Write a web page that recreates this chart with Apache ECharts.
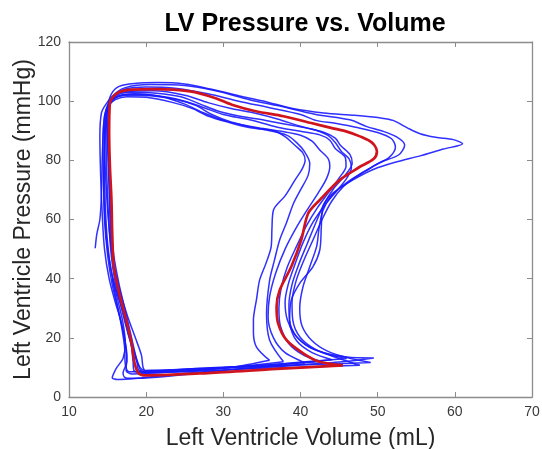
<!DOCTYPE html>
<html>
<head>
<meta charset="utf-8">
<script src="https://cdn.jsdelivr.net/npm/echarts@6/dist/echarts.min.js"></script>
<style>
  html, body { margin: 0; padding: 0; background: #fff; }
  #myChart { width: 542px; height: 449px; }
</style>
</head>
<body>
<div id="myChart"></div>
<script>
// axis ticks
var xTicks = [10, 20, 30, 40, 50, 60, 70]
var yTicks = [0, 20, 40, 60, 80, 100, 120]

// individual beats: [volume mL, pressure mmHg]
var loopA = [[36.0,12.4],[34.3,16.9],[33.9,22],[33.9,26.0],[34.3,33],[34.7,39.5],[35.5,45],[36.2,50.8],[36.3,57],[36.5,63.2],[38.0,68],[39.3,73.4],[40.2,77],[40.6,80],[40.3,82.5],[39.3,85],[38.0,88],[36.5,90],[33.5,91],[30.5,93],[28,95],[26,97.5],[23.5,99.5],[20,101.3],[17.5,101.5],[16,100.5],[15.0,98],[14.7,95],[14.6,85],[14.5,72],[14.6,60],[15.0,48],[15.6,38],[16.5,28],[17.2,20],[17.5,14],[17.4,9],[18.2,7.8],[25,8.8],[31,10],[36.0,12.4]]
var loopB = [[37.8,11.9],[36.0,19.2],[35.6,28.2],[36.0,39.5],[36.6,46],[37.3,53.1],[38.2,59],[39.1,65.5],[40.0,70],[41.0,75],[41.2,79],[40.5,83],[39.5,86],[38.2,88.5],[36,90],[33.4,91.4],[30,93.5],[27.5,96],[25,99],[22,101.5],[18.5,102.5],[16.3,101.5],[15.3,99],[14.9,95],[15.0,85],[15.2,70],[15.4,55],[15.8,45],[16.4,36],[17.3,27],[18.0,19],[18.3,12],[18.4,9],[19.2,8.2],[28,9.3],[37.8,11.9]]
var loopC = [[15.6,40],[16.2,32],[16.8,24],[17.2,17],[17.3,11],[17.8,8.5],[29,10],[40.5,11.5],[38.0,15],[36.5,20],[35.8,27],[36.0,34],[36.8,42],[38.0,50],[39.4,57],[40.8,63],[42.3,69],[43.4,74],[43.8,78],[43.6,80.5],[42.5,83.5],[41.5,86.5],[40,88.5],[37.5,89.8],[34.5,91],[31,93],[28.5,95.5],[26.5,98.5],[24,100.5],[20.5,101.8],[17.5,102],[15.8,101],[14.9,98],[14.5,92],[14.3,80],[14.2,68],[14.0,60],[13.6,55],[13.4,50.3]]
var loopD = [[42.8,12],[40.5,14],[38.5,18],[37.4,24],[37.2,30],[37.5,37],[38.3,44],[39.5,51],[40.8,58],[42.2,64],[43.6,69],[45,74],[45.9,78],[45.8,81],[44.5,84],[43.8,86.8],[42.5,88.6],[40,89.8],[37,91.2],[33.4,93.7],[30,95.5],[27.5,97.8],[25,100],[21.5,101.8],[18,102.3],[16.2,101.5],[15.2,99],[14.6,95],[14.4,85],[14.5,70],[14.8,55],[15.3,45],[16,37],[17,29],[17.8,20],[18.5,14],[19.2,10],[19.8,9],[30,10],[42.8,12]]
var loopE = [[44.1,12.6],[41.5,15],[39.5,19],[38.6,25],[38.5,31],[38.9,38],[39.8,45],[40.9,52],[42.0,59],[43.0,65],[44.3,70.5],[45.8,75],[46.7,79],[46.4,82],[45.2,85],[44.5,87.5],[43,89.5],[40,91.5],[37,94],[34,96],[31,97.5],[28,99.5],[25,102],[21,103.5],[17.5,103.3],[15.8,102],[14.8,99],[14.2,96],[14.0,88],[14.1,75],[14.3,62],[14.6,50],[15.2,40],[16.0,32],[16.8,25],[17.3,18],[17.5,12],[17.0,8],[17.3,6.5],[18,6.3],[30,9],[44.1,12.6]]
var loopF = [[47.7,10.7],[45,13],[42,16],[40,20],[39,26],[38.9,32],[39.4,39],[40.4,46],[41.6,53],[42.8,60],[44,66],[45.5,71],[47.5,75],[49.8,78.5],[51.5,81],[52.3,84.5],[51.8,87.3],[50,89.4],[47.5,91],[44.5,92.5],[42,93.5],[40,95.5],[36,97.8],[32,100],[28,102.5],[24,104.3],[20,104.8],[17.2,104],[15.7,101.5],[15,97],[14.8,88],[14.9,75],[15.1,62],[15.4,50],[15.9,40],[16.7,31],[17.6,22],[18.5,15],[19,11],[19.3,9],[20.2,8.3],[34,9.6],[47.7,10.7]]
var loopG = [[49.1,11.7],[46.5,13],[43.5,15.5],[41.5,19],[40.2,24],[39.9,30],[40.3,37],[41.2,44],[42.1,51],[42.4,57],[42.9,63],[44,68],[46,72.5],[48.5,76.5],[50.3,79.3],[52.7,81.8],[53.5,85.2],[52.4,88],[50.5,90],[48.6,91.4],[46.4,93.7],[42,95.5],[37,98.5],[33.4,100.5],[29,103.5],[25,105.3],[20.5,105.6],[17.2,104.5],[15.8,102],[15.2,98],[15,90],[15.2,75],[15.4,60],[15.8,48],[16.5,38],[17.4,28],[18.2,19],[18.8,12],[19.0,9.2],[19.6,8.5],[30,9.8],[40,10.8],[49.1,11.7]]
var loopH = [[49.5,13.2],[46.0,13.5],[42.1,15.8],[39.5,20.4],[38.6,26.0],[38.8,32.7],[39.9,38.4],[41.6,44.0],[42.5,49.7],[42.7,57.6],[42.9,64.3],[44.2,68.9],[46.8,73.4],[49.5,77],[52.5,79.5],[55.5,81.5],[58.5,83.8],[61.0,85.6],[59.8,87.0],[57.5,87.8],[55.5,89],[53.9,90.9],[52.0,93.5],[50.4,94.3],[47,95.2],[43,96],[39,97.5],[36,99.5],[32.4,101.6],[28.5,104],[25,105.8],[21.5,106.3],[18.5,106],[16.5,105],[15.5,102.5],[15.0,98],[14.7,90],[14.6,78],[14.7,65],[15.0,52],[15.5,42],[16.3,33],[17.0,25],[17.3,18],[17.0,13],[16.2,10],[15.8,8],[15.6,6.5],[16.3,5.9],[25,8],[35,10],[45,11.8],[49.5,13.2]]
var loopI = [[46.0,13.0],[43.5,14.5],[41.0,17],[39.3,21],[38.3,26],[38.0,32],[38.4,38],[39.3,45],[40.3,52],[41.6,59],[43.2,65],[44.8,70],[46.0,74],[46.6,77.5],[46.3,80.5],[45.3,83],[44.5,86],[43.5,88.5],[41.5,90.5],[38.5,92],[35.5,93.5],[32,95],[29.5,96.5],[27,99],[24.5,101.5],[21,102.8],[18,103],[16.2,102],[15.3,99.5],[14.8,95],[14.6,85],[14.8,72],[15.1,60],[15.6,48],[16.4,38],[17.5,28],[18.6,20],[19.4,14],[19.6,10],[20.0,8.8],[32,10.2],[46.0,13.0]]

// averaged loop (red)
var meanLoop = [[45.5,10.7],[42.5,11.9],[40.4,14.7],[38.2,19.2],[37.1,24.9],[36.9,30.5],[37.3,36.1],[38.8,44.0],[40.1,53.1],[41.0,62.1],[42.5,66.6],[45.1,73.4],[47.5,77.5],[49.5,80.5],[49.9,83.0],[49.3,85.9],[47.7,88.1],[45.9,89.8],[44.1,90.9],[41.4,92.6],[37.8,94.9],[34.2,96.6],[31.1,98.8],[28.9,101.1],[25.7,103.3],[21.2,104.1],[18.1,103.9],[16.3,102.8],[15.3,99.4],[15.2,89.2],[15.3,78.0],[15.5,66.7],[15.6,55.4],[15.8,44.2],[16.5,35.2],[17.4,26.1],[18.1,18.3],[18.5,11.5],[19.0,8.1],[19.9,7.3],[28.0,8.1],[36.9,9.5],[45.5,10.7]]

var blueLoops = [loopA, loopB, loopC, loopD, loopE, loopF, loopG, loopH, loopI]

var font = 'Liberation Sans, Arial, Helvetica, sans-serif'
var myChart = echarts.init(document.getElementById('myChart'))

var series = blueLoops.map(function (d) {
    return {
        type: 'line', data: d, showSymbol: false, smooth: 0.3,
        lineStyle: { color: '#1a1aff', width: 1.5, opacity: 0.9 },
        z: 2, silent: true
    }
})
series.push({
    type: 'line', data: meanLoop, showSymbol: false, smooth: 0.3,
    lineStyle: { color: '#d0141e', width: 2.7 },
    z: 3, silent: true
})

function axisBase(pos, min, max, step, labels) {
    return {
        type: 'value', position: pos, min: min, max: max, interval: step,
        axisLine: { show: true, onZero: false, lineStyle: { color: '#8c8c8c', width: 1.3 } },
        axisTick: { show: true, inside: true, length: 5, lineStyle: { color: '#8c8c8c' } },
        axisLabel: { show: labels, color: '#3a3a3a', fontSize: 14, fontFamily: font, margin: 8 },
        splitLine: { show: false }
    }
}

var xMain = axisBase('bottom', xTicks[0], xTicks[xTicks.length - 1], 10, true)
xMain.name = 'Left Ventricle Volume (mL)'
xMain.nameLocation = 'middle'
xMain.nameGap = 30
xMain.nameMoveOverlap = false
xMain.nameTextStyle = { fontSize: 23, color: '#262626', fontFamily: font }
var xTop = axisBase('top', xTicks[0], xTicks[xTicks.length - 1], 10, false)

var yMain = axisBase('left', yTicks[0], yTicks[yTicks.length - 1], 20, true)
yMain.name = 'Left Ventricle Pressure (mmHg)'
yMain.nameLocation = 'middle'
yMain.nameGap = 34
yMain.nameMoveOverlap = false
yMain.nameTextStyle = { fontSize: 23, color: '#262626', fontFamily: font }
var yRight = axisBase('right', yTicks[0], yTicks[yTicks.length - 1], 20, false)

var option = {
    animation: false,
    title: {
        text: 'LV Pressure vs. Volume',
        left: 300, top: 7, textAlign: 'center',
        textStyle: { fontSize: 25, fontWeight: 'bold', color: '#000', fontFamily: font }
    },
    grid: { left: 69, right: 10, top: 42, bottom: 52, outerBoundsMode: 'none' },
    xAxis: [xMain, xTop],
    yAxis: [yMain, yRight],
    series: series
}
myChart.setOption(option)
</script>
</body>
</html>
